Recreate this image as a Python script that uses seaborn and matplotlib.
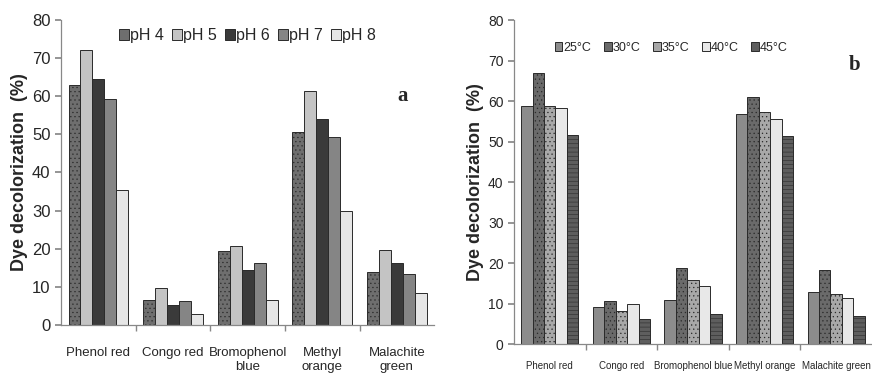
import matplotlib
matplotlib.use("Agg")
import matplotlib.pyplot as plt
import numpy as np
import pandas as pd
import seaborn as sns

# dyes on the x axis
dyes_a = ["Phenol red", "Congo red", "Bromophenol\nblue", "Methyl\norange", "Malachite\ngreen"]
dyes_b = ["Phenol red", "Congo red", "Bromophenol blue", "Methyl orange", "Malachite green"]

# panel a: pH
ph_levels = ["pH 4", "pH 5", "pH 6", "pH 7", "pH 8"]
ph4 = [62.9, 6.6, 19.4, 50.5, 13.8]
ph5 = [72.1, 9.8, 20.6, 61.5, 19.6]
ph6 = [64.6, 5.2, 14.5, 54.0, 16.2]
ph7 = [59.4, 6.3, 16.3, 49.2, 13.5]
ph8 = [35.4, 2.9, 6.6, 30.0, 8.4]

# panel b: temperature
temp_levels = ["25°C", "30°C", "35°C", "40°C", "45°C"]
t25 = [58.8, 9.1, 10.9, 56.8, 12.9]
t30 = [66.9, 10.6, 18.8, 61.0, 18.4]
t35 = [58.8, 8.1, 15.9, 57.2, 12.3]
t40 = [58.4, 10.0, 14.3, 55.6, 11.3]
t45 = [51.7, 6.2, 7.5, 51.4, 6.8]

y_ticks = [0, 10, 20, 30, 40, 50, 60, 70, 80]


def long_df(dyes, levels, series):
    rows = []
    for lev, vals in zip(levels, series):
        for d, v in zip(dyes, vals):
            rows.append({"dye": d, "level": lev, "value": v})
    return pd.DataFrame(rows)


sns.set_theme(style="white")
plt.rcParams["font.family"] = ["Liberation Sans Narrow", "Liberation Sans", "DejaVu Sans"]
plt.rcParams["hatch.linewidth"] = 0.4

fig = plt.figure(figsize=(8.72, 3.73), dpi=100)
ax_a = fig.add_axes([0.070, 0.1287, 0.428, 0.8177])
ax_b = fig.add_axes([0.5894, 0.0777, 0.4106, 0.8686])

df_a = long_df(dyes_a, ph_levels, [ph4, ph5, ph6, ph7, ph8])
df_b = long_df(dyes_b, temp_levels, [t25, t30, t35, t40, t45])

pal_a = ["#6e6e6e", "#c4c4c4", "#3a3a3a", "#858585", "#e6e6e6"]
hatch_a = ["....", "", "", "", ""]
pal_b = ["#8c8c8c", "#6a6a6a", "#a8a8a8", "#e8e8e8", "#5e5e5e"]
hatch_b = ["", "....", "....", "", "----"]

for ax, df, pal, hatches in [(ax_a, df_a, pal_a, hatch_a), (ax_b, df_b, pal_b, hatch_b)]:
    sns.barplot(data=df, x="dye", y="value", hue="level", palette=pal, ax=ax,
                width=0.8, edgecolor="#2a2a2a", linewidth=0.7, saturation=1)
    for cont, h in zip(ax.containers, hatches):
        for p in cont:
            p.set_hatch(h)
    ax.set_ylim(0, 80)
    ax.set_xlim(-0.5, 4.5)
    ax.set_yticks(y_ticks)
    ax.set_xlabel("")
    ax.set_ylabel("Dye decolorization  (%)", fontsize=13, fontweight="bold",
                  family=["Liberation Sans", "DejaVu Sans"])
    for s in ["top", "right"]:
        ax.spines[s].set_visible(False)
    for s in ["left", "bottom"]:
        ax.spines[s].set_color("#888888")
        ax.spines[s].set_linewidth(0.9)
    ax.set_xticks(np.arange(0.5, 4.5, 1.0), minor=True)
    ax.tick_params(axis="x", which="major", length=0)
    ax.tick_params(axis="x", which="minor", length=4, color="#888888", direction="out", bottom=True)
    ax.tick_params(axis="y", length=4, color="#888888", direction="out", left=True)

# panel a text
ax_a.tick_params(axis="y", labelsize=12)
ax_a.tick_params(axis="x", labelsize=9.5, pad=16)
ax_a.yaxis.set_label_coords(-0.088, 0.5)
for t in ax_a.get_xticklabels():
    t.set_linespacing(1.25)
    t.set_va("top")
ax_a.legend(ncol=5, loc="upper center", bbox_to_anchor=(0.5, 1.0), frameon=False,
            fontsize=11.5, handlelength=0.6, handleheight=0.7, handletextpad=0.1,
            columnspacing=0.5, borderaxespad=0.1)
ax_a.text(0.915, 0.75, "a", transform=ax_a.transAxes, fontsize=15, fontweight="bold",
          family=["Liberation Serif", "DejaVu Serif"], ha="center", va="center")

# panel b text
ax_b.tick_params(axis="y", labelsize=10)
ax_b.tick_params(axis="x", labelsize=7, pad=12)
ax_b.yaxis.set_label_coords(-0.085, 0.5)
ax_b.legend(ncol=5, loc="upper center", bbox_to_anchor=(0.44, 0.955), frameon=False,
            fontsize=9, handlelength=0.6, handleheight=0.7, handletextpad=0.1,
            columnspacing=1.0, borderaxespad=0.2)
ax_b.text(0.95, 0.86, "b", transform=ax_b.transAxes, fontsize=15, fontweight="bold",
          family=["Liberation Serif", "DejaVu Serif"], ha="center", va="center")

fig.savefig("out.png", dpi=100)
